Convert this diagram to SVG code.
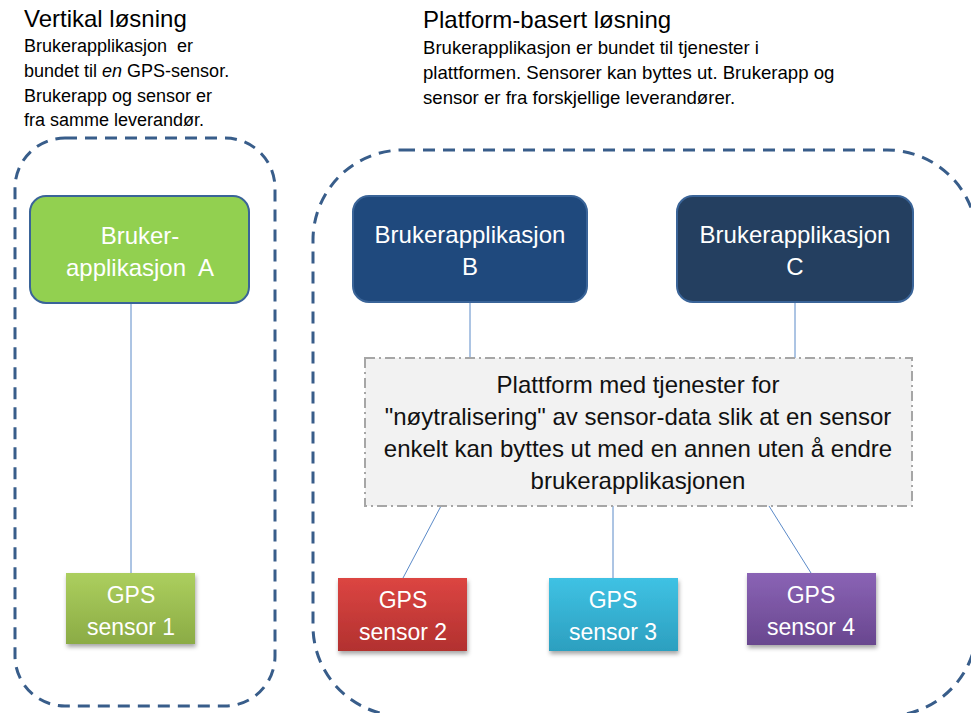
<svg xmlns="http://www.w3.org/2000/svg" width="971" height="713" viewBox="0 0 971 713">
<defs>
<style>
.t{font-family:"Liberation Sans",Arial,sans-serif;fill:#000}
.h{font-size:24px}
.d{font-size:18px}
.r{font-size:18.6px}
.w{font-family:"Liberation Sans",Arial,sans-serif;fill:#fff;font-size:24px;text-anchor:middle}
.s{font-family:"Liberation Sans",Arial,sans-serif;fill:#fff;font-size:23px;text-anchor:middle}
.p{font-family:"Liberation Sans",Arial,sans-serif;fill:#111;font-size:24px;text-anchor:middle}
.grp{fill:none;stroke:#385D8A;stroke-width:3;stroke-dasharray:12 8}
.app{stroke:#3A6498;stroke-width:2}
.con{stroke:#5B8AC8;stroke-width:1;fill:none}
.sen{filter:url(#sh)}
</style>
<linearGradient id="g1" x1="0" y1="0" x2="0" y2="1"><stop offset="0" stop-color="#ACCF5E"/><stop offset="1" stop-color="#8BAB45"/></linearGradient>
<linearGradient id="g2" x1="0" y1="0" x2="0" y2="1"><stop offset="0" stop-color="#DC4542"/><stop offset="1" stop-color="#B2312F"/></linearGradient>
<linearGradient id="g3" x1="0" y1="0" x2="0" y2="1"><stop offset="0" stop-color="#3FC2E4"/><stop offset="1" stop-color="#2C9FBF"/></linearGradient>
<linearGradient id="g4" x1="0" y1="0" x2="0" y2="1"><stop offset="0" stop-color="#8A63B5"/><stop offset="1" stop-color="#69478F"/></linearGradient>
<filter id="sh" x="-10%" y="-10%" width="125%" height="130%"><feDropShadow dx="1" dy="3" stdDeviation="2" flood-color="#000" flood-opacity="0.35"/></filter>
</defs>
<rect width="971" height="713" fill="#fff"/>

<g id="title-left">
<text class="t h" x="24" y="27">Vertikal løsning</text>
<text class="t d" x="24" y="52" xml:space="preserve">Brukerapplikasjon  er</text>
<text class="t d" x="24" y="77">bundet til <tspan font-style="italic">en</tspan> GPS-sensor.</text>
<text class="t d" x="24" y="102">Brukerapp og sensor er</text>
<text class="t d" x="24" y="126">fra samme leverandør.</text>
</g>
<g id="title-right">
<text class="t h" x="423" y="28">Platform-basert løsning</text>
<text class="t r" x="423" y="54">Brukerapplikasjon er bundet til tjenester i</text>
<text class="t r" x="423" y="79">plattformen. Sensorer kan byttes ut. Brukerapp og</text>
<text class="t r" x="423" y="104">sensor er fra forskjellige leverandører.</text>
</g>

<g id="group-vertical"><rect class="grp" x="15" y="138" width="260" height="568" rx="50"/></g>
<g id="group-platform"><rect class="grp" x="313" y="150" width="664" height="566" rx="90"/></g>

<g id="connectors">
<line class="con" x1="131" y1="303" x2="131" y2="573"/>
<line class="con" x1="470" y1="302" x2="470" y2="358"/>
<line class="con" x1="795" y1="302" x2="795" y2="358"/>
<line class="con" x1="441" y1="506" x2="403" y2="578"/>
<line class="con" x1="613" y1="506" x2="613" y2="578"/>
<line class="con" x1="769" y1="506" x2="811" y2="573"/>
</g>

<g id="app-a">
<rect class="app" x="30" y="196" width="219" height="107" rx="16" fill="#92D050"/>
<text class="w" x="140" y="244">Bruker-</text>
<text class="w" x="140" y="276" xml:space="preserve">applikasjon  A</text>
</g>
<g id="app-b">
<rect class="app" x="353" y="196" width="234" height="106" rx="16" fill="#1F497D"/>
<text class="w" x="470" y="243">Brukerapplikasjon</text>
<text class="w" x="470" y="275">B</text>
</g>
<g id="app-c">
<rect class="app" x="677" y="196" width="236" height="106" rx="16" fill="#243F60"/>
<text class="w" x="795" y="243">Brukerapplikasjon</text>
<text class="w" x="795" y="275">C</text>
</g>

<g id="platform">
<rect x="365" y="358" width="547" height="148" fill="#F2F2F2" stroke="#A6A6A6" stroke-width="2" stroke-dasharray="10 4 2 4"/>
<text class="p" x="638" y="393">Plattform med tjenester for</text>
<text class="p" x="638" y="425">"nøytralisering" av sensor-data slik at en sensor</text>
<text class="p" x="638" y="457">enkelt kan byttes ut med en annen uten å endre</text>
<text class="p" x="638" y="489">brukerapplikasjonen</text>
</g>

<g id="sensor-1">
<rect class="sen" x="66" y="573" width="129" height="71" fill="url(#g1)"/>
<text class="s" x="131" y="603">GPS</text>
<text class="s" x="131" y="635">sensor 1</text>
</g>
<g id="sensor-2">
<rect class="sen" x="338" y="578" width="129" height="73" fill="url(#g2)"/>
<text class="s" x="403" y="608">GPS</text>
<text class="s" x="403" y="640">sensor 2</text>
</g>
<g id="sensor-3">
<rect class="sen" x="549" y="578" width="129" height="73" fill="url(#g3)"/>
<text class="s" x="613" y="608">GPS</text>
<text class="s" x="613" y="640">sensor 3</text>
</g>
<g id="sensor-4">
<rect class="sen" x="747" y="573" width="129" height="72" fill="url(#g4)"/>
<text class="s" x="811" y="603">GPS</text>
<text class="s" x="811" y="635">sensor 4</text>
</g>
</svg>
